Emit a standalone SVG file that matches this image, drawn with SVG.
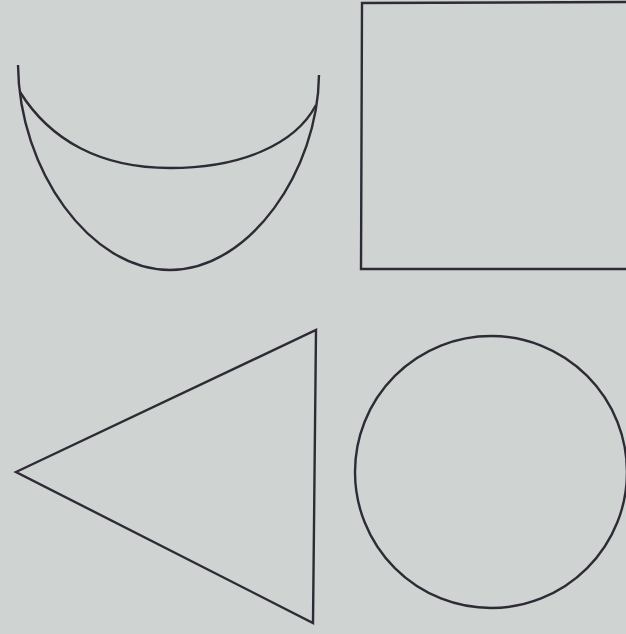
<svg xmlns="http://www.w3.org/2000/svg" width="626" height="634" viewBox="0 0 626 634">
<style>
.s{fill:none;stroke:#2f2b35;stroke-width:2.4;stroke-linejoin:miter;stroke-linecap:butt}
</style>
<rect x="0" y="0" width="626" height="634" fill="#cfd3d2"/>
<g id="crescent">
<path class="s" d="M18,65 C19,170 90,270 170,270 C250,270 318,170 319,75"/>
<path class="s" d="M20,92 C50,140 100,168 170,168 C240,168 295,145 316,105"/>
</g>
<g id="square">
<path class="s" d="M626,2 L362,3 L361,269 L626,269"/>
</g>
<g id="triangle">
<polygon class="s" points="16,472 316,330 313,623"/>
</g>
<g id="circle">
<circle class="s" cx="491" cy="472" r="136"/>
</g>
</svg>
